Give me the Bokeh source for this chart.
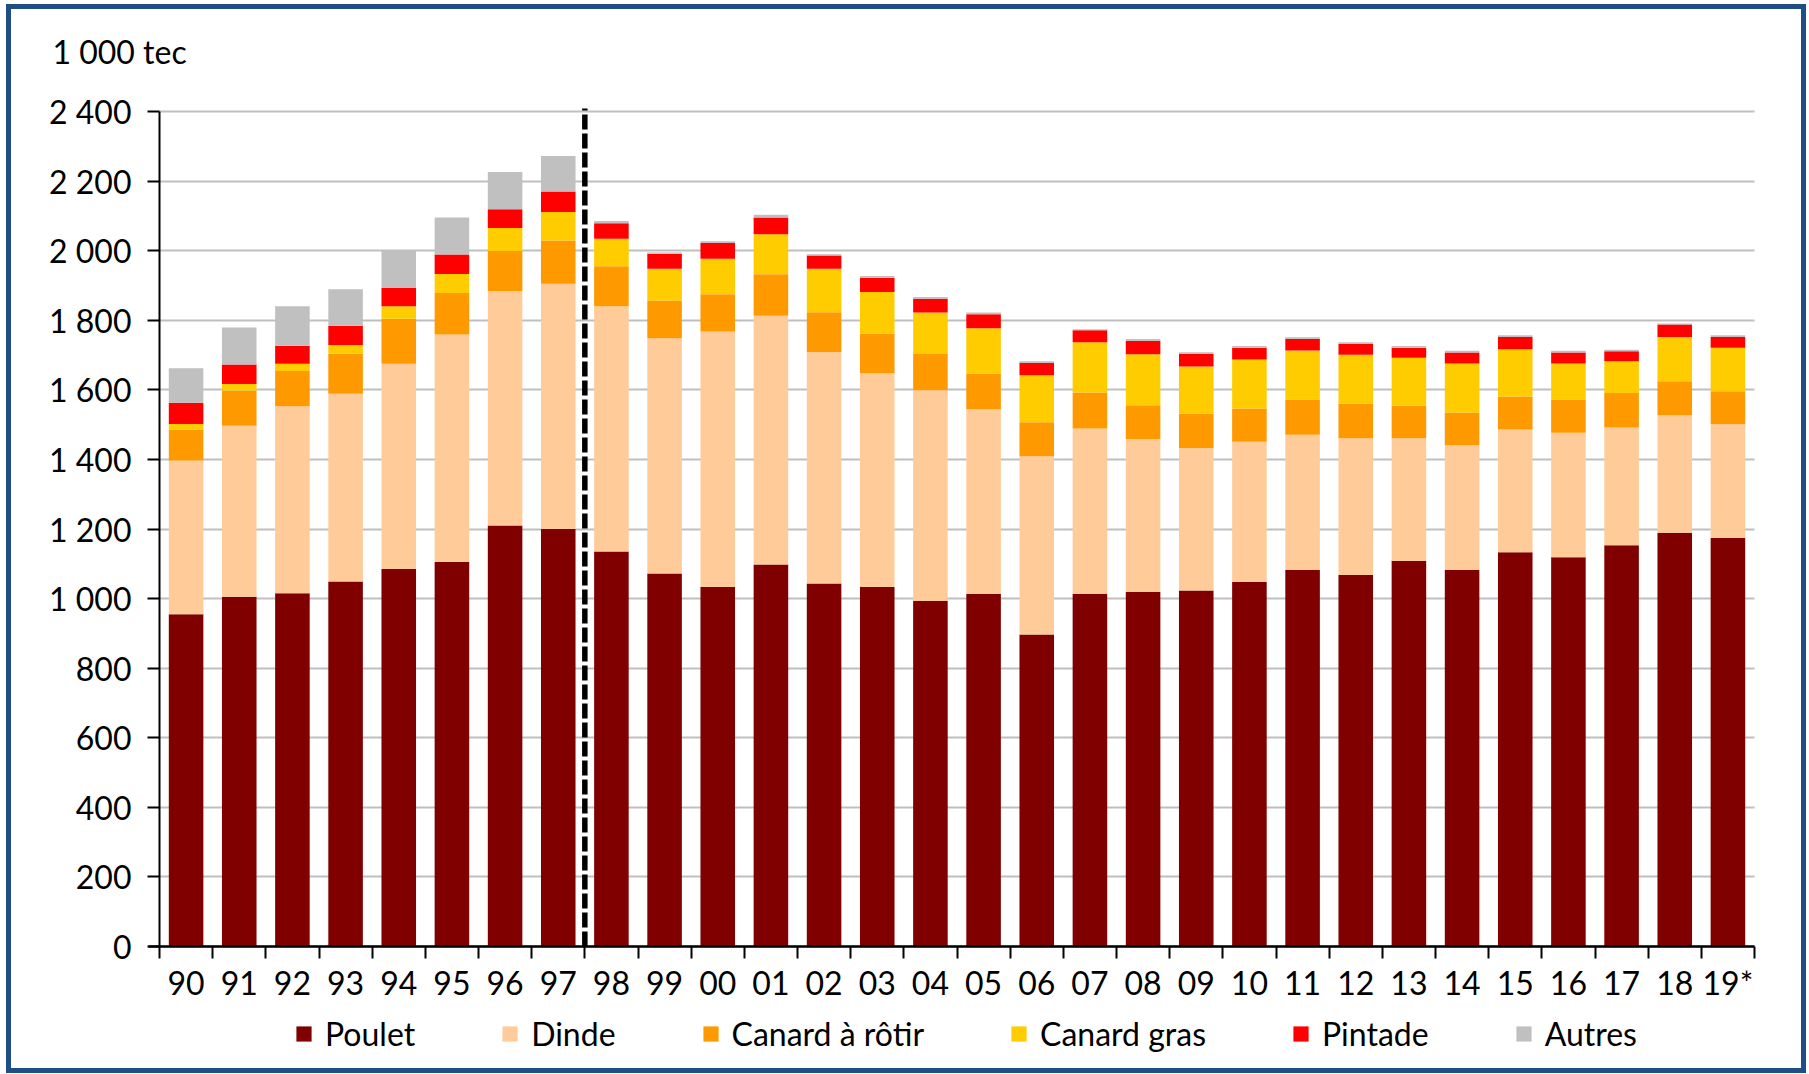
from bokeh.plotting import figure
from bokeh.models import (Range1d, FixedTicker, CustomJSTickFormatter, Legend,
                          LegendItem, Label, ColumnDataSource)
from bokeh.embed import file_html
from bokeh.resources import INLINE

years = ["90", "91", "92", "93", "94", "95", "96", "97", "98", "99", "00", "01",
         "02", "03", "04", "05", "06", "07", "08", "09", "10", "11", "12", "13",
         "14", "15", "16", "17", "18", "19*"]
poulet = [955, 1005, 1015, 1049, 1085, 1105, 1210, 1200, 1135, 1072, 1033, 1098,
          1043, 1033, 993, 1014, 897, 1014, 1019, 1023, 1048, 1083, 1068, 1108,
          1083, 1133, 1119, 1153, 1189, 1175]
dinde = [442, 492, 538, 540, 590, 654, 674, 705, 705, 676, 735, 715, 666, 615, 606,
         530, 512, 475, 440, 410, 403, 388, 393, 353, 358, 353, 358, 339, 338, 326]
canard_rotir = [89, 101, 101, 115, 129, 119, 115, 124, 115, 109, 107, 119, 114, 114,
                104, 103, 98, 103, 97, 99, 95, 101, 99, 93, 94, 95, 95, 99, 98, 95]
canard_gras = [16, 19, 21, 25, 36, 55, 66, 82, 79, 91, 102, 115, 125, 119, 119, 130,
               135, 145, 146, 135, 141, 141, 141, 138, 141, 136, 104, 91, 127, 125]
pintade = [61, 56, 52, 55, 53, 56, 54, 59, 45, 43, 45, 48, 38, 41, 40, 40, 35, 34,
           39, 36, 34, 33, 31, 29, 31, 35, 31, 29, 36, 31]
autres = [99, 106, 113, 105, 107, 106, 107, 102, 6, 4, 5, 8, 4, 5, 5, 5, 5, 3, 5, 5,
          5, 5, 5, 5, 5, 5, 5, 4, 3, 5]

series_names = ["Poulet", "Dinde", "Canard à rôtir", "Canard gras", "Pintade", "Autres"]
series_keys = ["poulet", "dinde", "canard_rotir", "canard_gras", "pintade", "autres"]
colors = ["#800000", "#FFCC99", "#FF9900", "#FFCC00", "#FF0000", "#C0C0C0"]
y_ticks = list(range(0, 2401, 200))
break_before = "98"
unit_label = "1 000 tec"

FONT = "Lato"
FS = "32px"

# ---- geometry (pixels) ----
W, H = 1800, 1069
PLOT_LEFT, PLOT_RIGHT = 148, 1743      # canvas px of x = 0 and x = n
PLOT_TOP, PLOT_BOTTOM = 102, 937       # canvas px of y = top tick and y = 0

n = len(years)
y_top = y_ticks[-1]
kx = (PLOT_RIGHT - PLOT_LEFT) / n
ky = (PLOT_BOTTOM - PLOT_TOP) / y_top
x_start = -PLOT_LEFT / kx
x_end = x_start + W / kx
y_end = y_top + PLOT_TOP / ky
y_start = -(H - PLOT_BOTTOM) / ky

centers = [i + 0.5 for i in range(n)]
bounds = [float(i) for i in range(n + 1)]

source = ColumnDataSource(dict(x=centers, years=years, poulet=poulet, dinde=dinde,
                               canard_rotir=canard_rotir, canard_gras=canard_gras,
                               pintade=pintade, autres=autres))

p = figure(width=W, height=H, x_range=Range1d(x_start, x_end),
           y_range=Range1d(y_start, y_end),
           output_backend="svg", toolbar_location=None,
           min_border_left=0, min_border_right=0, min_border_top=0,
           min_border_bottom=0)
p.styles = {"border": "5px solid #1F4E87", "margin-left": "6px", "margin-top": "4px"}
p.outline_line_color = None
p.background_fill_color = "white"
p.border_fill_color = "white"

renderers = p.vbar_stack(series_keys, x="x", width=0.65, color=colors,
                         source=source, line_width=0)

# grid
p.xgrid.visible = False
p.ygrid.ticker = FixedTicker(ticks=y_ticks)
p.ygrid.cross_bounds = (0, n)
p.ygrid.grid_line_color = "#BFBFBF"
p.ygrid.grid_line_width = 2

# y axis at x = 0
ya = p.yaxis[0]
ya.fixed_location = 0
ya.ticker = FixedTicker(ticks=y_ticks)
ya.bounds = (0, y_top)
ya.major_label_overrides = {v: f"{v:,}".replace(",", " ") for v in y_ticks}
ya.major_label_text_font = FONT
ya.major_label_text_font_size = FS
ya.major_label_text_color = "black"
ya.major_tick_out = 12
ya.major_tick_in = 0
ya.major_tick_line_width = 2
ya.major_tick_line_color = "black"
ya.minor_tick_line_color = None
ya.axis_line_width = 2
ya.axis_line_color = "black"
ya.major_label_standoff = 16

# x axis at y = 0: labels at centres, tick marks at boundaries
xa = p.xaxis[0]
xa.fixed_location = 0
xa.bounds = (-11 / kx, n)
xa.ticker = FixedTicker(ticks=centers, minor_ticks=bounds)
xa.formatter = CustomJSTickFormatter(args=dict(labels=years),
                                     code="return labels[Math.floor(tick)];")
xa.major_tick_line_color = None
xa.major_tick_out = 10
xa.major_tick_in = 0
xa.minor_tick_out = 12
xa.minor_tick_in = 0
xa.minor_tick_line_color = "black"
xa.minor_tick_line_width = 2
xa.axis_line_width = 2.5
xa.axis_line_color = "black"
xa.major_label_text_font = FONT
xa.major_label_text_font_size = FS
xa.major_label_text_color = "black"
xa.major_label_standoff = 4

# dashed separator between 97 and 98
sep_x = float(years.index(break_before))
p.segment(x0=[sep_x], y0=[0], x1=[sep_x], y1=[y_top + 3 / ky], line_color="black",
          line_width=5.5, line_dash="15 4")

# unit label
p.add_layout(Label(x=-107 / kx, y=y_top + 60 / ky, text=unit_label,
                   text_font=FONT, text_font_size=FS, text_baseline="middle",
                   text_align="left", text_color="black"))

legend = Legend(items=[LegendItem(label=nm, renderers=[r])
                       for nm, r in zip(series_names, renderers)],
                orientation="horizontal", location=(PLOT_LEFT + 135, 25),
                glyph_width=19, glyph_height=19, label_standoff=12, spacing=85,
                padding=5, margin=0, label_text_font=FONT, label_text_font_size=FS,
                label_text_color="black", border_line_color=None,
                background_fill_alpha=0)
p.add_layout(legend, "center")

open("out.html", "w").write(file_html(p, INLINE))
